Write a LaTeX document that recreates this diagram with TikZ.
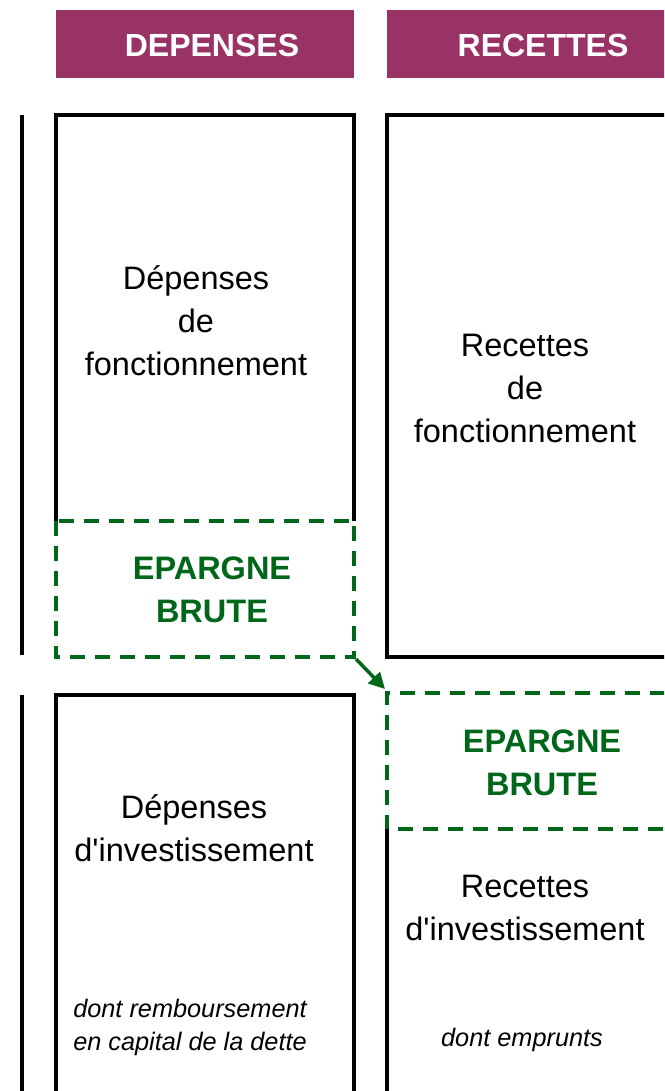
\documentclass[tikz,border=0pt]{standalone}
\usepackage{fontspec}
\setmainfont{Liberation Sans}[Ligatures=TeXOff]
\usetikzlibrary{arrows.meta}
\definecolor{plum}{HTML}{993366}
\definecolor{dgreen}{HTML}{006619}
\begin{document}
\begin{tikzpicture}[x=1pt,y=-1pt,
  solidline/.style={line width=3.5pt,black,line join=miter},
  dashbox/.style={draw=dgreen,line width=3.5pt,dash pattern=on 15pt off 10pt},
  headtext/.style={text=white,font=\bfseries\fontsize{32}{36}\selectfont,inner sep=0pt},
  body/.style={align=center,font=\fontsize{32.5}{43}\selectfont,inner sep=0pt},
  greentext/.style={align=center,text=dgreen,font=\bfseries\fontsize{32.5}{43}\selectfont,inner sep=0pt},
  note/.style={align=center,font=\itshape\fontsize{25.3}{33}\selectfont,inner sep=0pt},
  greenarrow/.style={draw=dgreen,line width=3.5pt,-{Triangle[length=16pt,width=16pt]}}
]
\useasboundingbox (0,0) rectangle (664,1091);
\clip (0,0) rectangle (664,1091);
% headers
\fill[plum] (56,10) rectangle (354,78);
\fill[plum] (387,10) rectangle (690,78);
\node[headtext] (hd) at (212,45) {DEPENSES};
\node[headtext] (hr) at (543,45) {RECETTES};
% left vertical lines
\draw[solidline] (22,115) -- (22,655);
\draw[solidline] (22,695) -- (22,1100);
% top left box
\draw[solidline] (56,521) -- (56,115) -- (354,115) -- (354,521);
\draw[dashbox] (56,521) rectangle (354,657);
\coordinate (epLcorner) at (356,659);
% top right box
\draw[solidline] (690,115) -- (387,115) -- (387,657) -- (690,657);
% lower right dashed box
\draw[dashbox] (690,693) -- (387,693) -- (387,829) -- (690,829);
\coordinate (epRcorner) at (385,689);
% lower right box side
\draw[solidline] (387,829) -- (387,1100);
% lower left box
\draw[solidline] (56,1100) -- (56,695) -- (354,695) -- (354,1100);
% arrow
\draw[greenarrow] (epLcorner) -- (epRcorner);
% texts
\node[body] (df) at (196,321) {Dépenses\\de\\fonctionnement};
\node[greentext] (ebl) at (212,590) {EPARGNE\\BRUTE};
\node[body] (rf) at (525,388) {Recettes\\de\\fonctionnement};
\node[greentext] (ebr) at (542,763) {EPARGNE\\BRUTE};
\node[body] (di) at (194,828) {Dépenses\\d'investissement};
\node[body] (ri) at (525,908) {Recettes\\d'investissement};
\node[note] (dr) at (190,1027) {dont remboursement\\en capital de la dette};
\node[note] (de) at (522,1040) {dont emprunts};
\end{tikzpicture}
\end{document}
